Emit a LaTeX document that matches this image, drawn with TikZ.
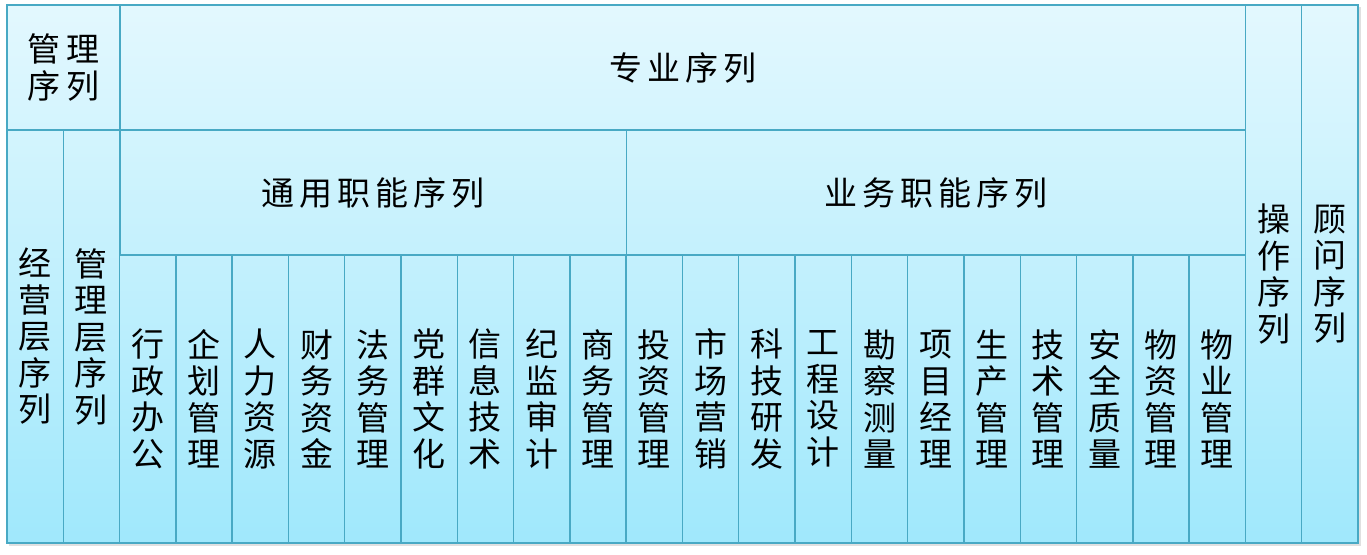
\documentclass[tikz,border=0pt]{standalone}
\usepackage{fontspec}
\setmainfont{Noto Sans CJK SC}
\definecolor{lineblue}{HTML}{48A9C4}
\definecolor{topc}{HTML}{E3F8FE}
\definecolor{botc}{HTML}{A0E8FC}
\newcommand{\gk}{\kern5pt}
\begin{document}
\begin{tikzpicture}[x=1pt,y=-1pt,
  cell/.style={draw=lineblue,line width=1.4pt,inner sep=0pt,align=center,
    font=\fontsize{33}{36.5}\selectfont},
]
\useasboundingbox (0,0) rectangle (1367,554);
\def\u{56.29}
% shadow and background
\fill[black,opacity=0.12] (9,7) rectangle (1361,546);
\shade[top color=topc,bottom color=botc] (7,5) rectangle (1358,543);
% top row
\node[cell,minimum width=113pt,minimum height=125pt] (glxl) at (63.5,67.5) {管\kern6pt 理\\序\kern6pt 列};
\node[cell,minimum width=1125.4pt,minimum height=125pt] (zyxl) at (682.7,67.5) {专\gk 业\gk 序\gk 列};
% second row
\node[cell,minimum width=506.6pt,minimum height=125pt] (tyzn) at (373.3,192.5) {通\gk 用\gk 职\gk 能\gk 序\gk 列};
\node[cell,minimum width=619.2pt,minimum height=125pt] (ywzn) at (935.8,192.5) {业\gk 务\gk 职\gk 能\gk 序\gk 列};
% tall columns
\node[cell,minimum width=\u pt,minimum height=413pt] (jyc) at (7+0.5*\u,336.5) {经\\营\\层\\序\\列};
\node[cell,minimum width=\u pt,minimum height=413pt] (glc) at (7+1.5*\u,336.5) {管\\理\\层\\序\\列};
\node[cell,minimum width=\u pt,minimum height=538pt] (czxl) at (7+22.5*\u,274) {操\\作\\序\\列};
\node[cell,minimum width=\u pt,minimum height=538pt] (gwxl) at (7+23.5*\u,274) {顾\\问\\序\\列};
% small columns
\foreach \t [count=\i] in {{行\\政\\办\\公},{企\\划\\管\\理},{人\\力\\资\\源},{财\\务\\资\\金},{法\\务\\管\\理},{党\\群\\文\\化},{信\\息\\技\\术},{纪\\监\\审\\计},{商\\务\\管\\理},{投\\资\\管\\理},{市\\场\\营\\销},{科\\技\\研\\发},{工\\程\\设\\计},{勘\\察\\测\\量},{项\\目\\经\\理},{生\\产\\管\\理},{技\\术\\管\\理},{安\\全\\质\\量},{物\\资\\管\\理},{物\\业\\管\\理}}{
  \node[cell,minimum width=\u pt,minimum height=288pt] (c\i) at (7+\i*\u+1.5*\u,399) {\t};
}
% outer frame
\draw[lineblue,line width=2.2pt] (7,5) rectangle (1358,543);
\end{tikzpicture}
\end{document}
